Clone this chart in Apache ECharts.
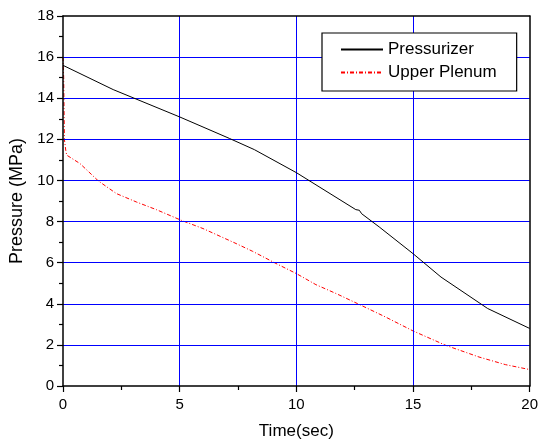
<!DOCTYPE html>
<html><head><meta charset="utf-8">
<script src="https://cdn.jsdelivr.net/npm/echarts@6/dist/echarts.min.js"></script>
<style>html,body{margin:0;padding:0;background:#fff}#c{width:541px;height:448px}</style>
</head><body><div id="c"></div>
<script>
const pressurizerTime = [0, 0.05, 2.15, 5.0, 7.14, 8.2, 10.0, 12.55, 12.7, 12.8, 13.55, 15.0, 16.2, 18.2, 20.0];
const pressurizerP    = [15.6, 15.57, 14.42, 13.09, 12.04, 11.5, 10.38, 8.58, 8.55, 8.38, 7.74, 6.44, 5.3, 3.77, 2.8];
const plenumTime = [0.0, 0.03, 0.06, 0.12, 0.16, 0.73, 1.51, 2.29, 3.15, 4.0, 5.07, 6.0, 7.42, 8.13, 9.13, 10.0, 10.84, 11.7, 12.62, 13.8, 15.0, 16.4, 17.83, 18.96, 20.0];
const plenumP    = [16.0, 15.0, 12.0, 11.45, 11.23, 10.82, 9.98, 9.36, 8.95, 8.58, 8.06, 7.66, 6.93, 6.55, 5.96, 5.47, 4.93, 4.5, 4.01, 3.37, 2.68, 1.98, 1.41, 1.04, 0.8];
const seriesNames = ['Pressurizer', 'Upper Plenum'];
const xTicks = [0, 5, 10, 15, 20];
const yTicks = [0, 2, 4, 6, 8, 10, 12, 14, 16, 18];

const zip = (a, b) => a.map((v, i) => [v, b[i]]);
const font = 'Liberation Sans, Arial, sans-serif';
const xMin = xTicks[0], xMax = xTicks[xTicks.length - 1];
const yMin = yTicks[0], yMax = yTicks[yTicks.length - 1];
const frameAxis = {
  type: 'value', z: 6,
  axisLine: {show: true, onZero: false, lineStyle: {color: '#000', width: 1.5}},
  axisTick: {show: false}, axisLabel: {show: false}, splitLine: {show: false}
};
const chart = echarts.init(document.getElementById('c'), null, {renderer: 'canvas'});
chart.setOption({
  animation: false,
  backgroundColor: '#fff',
  grid: {left: 63, right: 10, top: 16, bottom: 62, containLabel: false},
  legend: {
    orient: 'vertical', left: 322, top: 33,
    data: seriesNames,
    itemWidth: 42, itemHeight: 14, itemGap: 6,
    padding: [8, 20, 10, 18],
    borderColor: '#000', borderWidth: 1.2, backgroundColor: '#fff',
    itemStyle: {opacity: 0},
    textStyle: {fontFamily: font, fontSize: 17, color: '#000'}
  },
  xAxis: [{
    type: 'value', min: xMin, max: xMax, interval: 5, z: 3,
    name: 'Time(sec)', nameLocation: 'middle', nameGap: 37,
    nameTextStyle: {fontFamily: font, fontSize: 17, color: '#000'},
    axisLine: {show: true, onZero: false, lineStyle: {color: '#000', width: 1.5}},
    axisTick: {show: true, inside: false, length: 6, lineStyle: {color: '#000', width: 1.2}},
    minorTick: {show: true, splitNumber: 2, length: 4, lineStyle: {color: '#000', width: 1.2}},
    axisLabel: {fontFamily: font, fontSize: 15, color: '#000', margin: 11},
    splitLine: {show: true, showMinLine: false, showMaxLine: false, lineStyle: {color: '#0000ff', width: 1}}
  }, Object.assign({position: 'top', min: xMin, max: xMax}, frameAxis)],
  yAxis: [{
    type: 'value', min: yMin, max: yMax, interval: 2, z: 3,
    name: 'Pressure (MPa)', nameLocation: 'middle', nameGap: 31, nameRotate: 90,
    nameTextStyle: {fontFamily: font, fontSize: 18, color: '#000'},
    axisLine: {show: true, onZero: false, lineStyle: {color: '#000', width: 1.5}},
    axisTick: {show: true, inside: false, length: 6, lineStyle: {color: '#000', width: 1.2}},
    minorTick: {show: true, splitNumber: 2, length: 4, lineStyle: {color: '#000', width: 1.2}},
    axisLabel: {fontFamily: font, fontSize: 15, color: '#000', margin: 9},
    splitLine: {show: true, showMinLine: false, showMaxLine: false, lineStyle: {color: '#0000ff', width: 1}}
  }, Object.assign({position: 'right', min: yMin, max: yMax}, frameAxis)],
  series: [
    {name: seriesNames[0], type: 'line', data: zip(pressurizerTime, pressurizerP), symbol: 'none', showSymbol: false,
     lineStyle: {color: '#000', width: 1}, itemStyle: {color: '#000'}, z: 3},
    {name: seriesNames[1], type: 'line', data: zip(plenumTime, plenumP), symbol: 'none', showSymbol: false,
     lineStyle: {color: '#ff0000', width: 1, type: [4, 2, 1, 2]}, itemStyle: {color: '#ff0000'}, z: 2}
  ]
});
</script></body></html>
